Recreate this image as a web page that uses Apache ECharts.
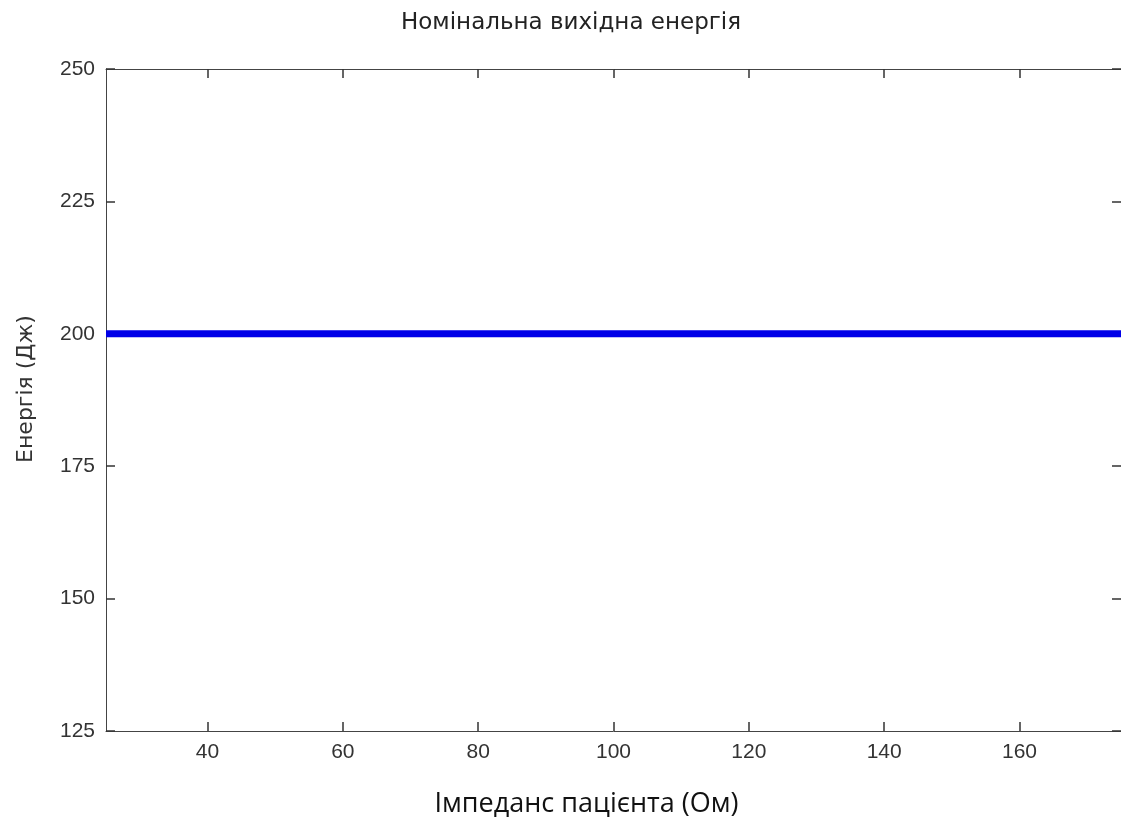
<!doctype html>
<html>
<head>
    <meta charset="utf-8">
    <title>Номінальна вихідна енергія</title>
    <script src="https://cdn.jsdelivr.net/npm/echarts@6/dist/echarts.min.js"></script>
</head>
<style>
    html, body {
        margin: 0;
        padding: 0;
        background: #fff;
    }
    #chart {
        width: 1121px;
        height: 823px;
    }
</style>
<body>
<div id="chart"></div>
<script>
  // data
  var impedance = [25, 175];      // Ом
  var energy = [200, 200];        // Дж
  var xLabels = [40, 60, 80, 100, 120, 140, 160];
  var yTicks = { min: 125, max: 250, interval: 25 };

  var myChart = echarts.init(document.getElementById('chart'));

  var tickFont = {
    color: '#333',
    fontFamily: 'Liberation Sans',
    fontSize: 21
  };
  var axisLine = { show: true, lineStyle: { color: '#444', width: 1 } };
  var axisTick = { show: true, inside: true, length: 9, lineStyle: { color: '#333', width: 1.5 } };

  function xAxis(pos) {
    return {
      type: 'value',
      position: pos,
      min: 25,
      max: 175,
      interval: 5,
      axisLine: axisLine,
      axisTick: Object.assign({}, axisTick, { customValues: xLabels }),
      axisLabel: pos === 'bottom' ? Object.assign({
        margin: 11,
        customValues: xLabels
      }, tickFont) : { show: false },
      splitLine: { show: false }
    };
  }

  function yAxis(pos) {
    return {
      type: 'value',
      position: pos,
      min: yTicks.min,
      max: yTicks.max,
      interval: yTicks.interval,
      axisLine: axisLine,
      axisTick: axisTick,
      axisLabel: pos === 'left' ? Object.assign({ margin: 11 }, tickFont) : { show: false },
      splitLine: { show: false }
    };
  }

  var bottom = xAxis('bottom');
  bottom.name = 'Імпеданс пацієнта (Ом)';
  bottom.nameLocation = 'middle';
  bottom.nameGap = 60;
  bottom.nameTextStyle = {
    color: '#111',
    fontFamily: 'Open Sans',
    fontSize: 27,
    padding: [0, 54, 0, 0]
  };

  var left = yAxis('left');
  left.name = 'Енергія (Дж)';
  left.nameLocation = 'middle';
  left.nameGap = 69;
  left.nameTextStyle = {
    color: '#333',
    fontFamily: 'DejaVu Sans',
    fontSize: 22,
    padding: [0, 0, 0, 22]
  };

  var points = impedance.map(function (x, i) {
    return [x, energy[i]];
  });

  var option = {
    animation: false,
    backgroundColor: '#fff',
    title: {
      text: 'Номінальна вихідна енергія',
      left: 396,
      top: 7,
      textStyle: {
        color: '#222',
        fontFamily: 'DejaVu Sans',
        fontWeight: 'normal',
        fontSize: 23
      }
    },
    grid: {
      left: 106,
      top: 69,
      width: 1018,
      height: 662
    },
    xAxis: [bottom, xAxis('top')],
    yAxis: [left, yAxis('right')],
    series: [{
      type: 'line',
      xAxisIndex: 0,
      yAxisIndex: 0,
      data: points,
      symbol: 'none',
      lineStyle: { color: '#0000e8', width: 7 }
    }]
  };

  myChart.setOption(option);
</script>
</body>
</html>
